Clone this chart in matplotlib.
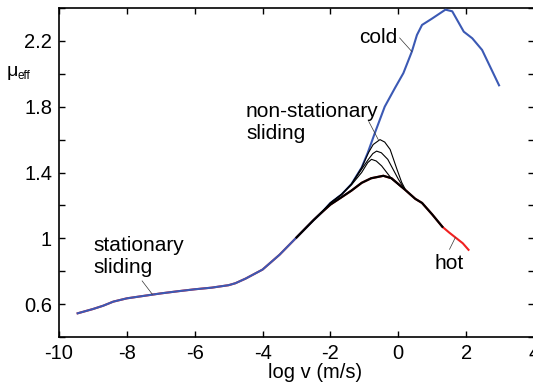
import matplotlib
matplotlib.use("Agg")
import matplotlib.pyplot as plt
import numpy as np

plt.rcParams['font.family'] = ['Liberation Sans', 'DejaVu Sans']

# base (stationary / hot) curve
base_x = [-9.45, -9.0, -8.7, -8.4, -8.0, -7.5, -7.0, -6.5, -6.0, -5.5, -5.0, -4.8, -4.5,
          -4.0, -3.5, -3.0, -2.5, -2.27, -2.0, -1.67, -1.38, -1.08, -0.8, -0.44, -0.2,
          0.0, 0.2, 0.5, 0.7, 1.0, 1.3, 1.5, 1.9, 2.07]
base_y = [0.544, 0.57, 0.59, 0.615, 0.635, 0.65, 0.665, 0.678, 0.69, 0.70, 0.715, 0.727, 0.755,
          0.81, 0.90, 1.005, 1.11, 1.155, 1.205, 1.25, 1.29, 1.337, 1.365, 1.38, 1.365,
          1.33, 1.295, 1.24, 1.215, 1.145, 1.07, 1.035, 0.97, 0.93]

# cold curve branch (after leaving the base curve near log v = -2.3)
cold_x = [-2.0, -1.67, -1.38, -1.08, -0.9, -0.7, -0.4, -0.1, 0.15, 0.4, 0.55, 0.7, 0.99,
          1.39, 1.59, 1.93, 2.18, 2.47, 2.97]
cold_y = [1.215, 1.267, 1.33, 1.43, 1.52, 1.635, 1.80, 1.913, 2.004, 2.135, 2.236, 2.297, 2.335,
          2.39, 2.38, 2.256, 2.216, 2.145, 1.93]

# intermediate (black) curve range
mid_x_range = [-3.0, 1.3]

# non-stationary sliding curves
ns1_x = [-2.27, -2.0, -1.67, -1.38, -1.08, -0.88, -0.74, -0.54, -0.4, -0.24, -0.04, 0.1, 0.2]
ns1_y = [1.155, 1.215, 1.267, 1.33, 1.43, 1.52, 1.57, 1.60, 1.585, 1.54, 1.42, 1.34, 1.30]
ns2_x = [-2.27, -2.0, -1.67, -1.38, -1.08, -0.88, -0.75, -0.64, -0.5, -0.31, 0.0, 0.15]
ns2_y = [1.155, 1.215, 1.267, 1.33, 1.42, 1.48, 1.515, 1.53, 1.52, 1.48, 1.36, 1.31]
ns3_x = [-2.27, -2.0, -1.67, -1.38, -1.08, -0.9, -0.79, -0.65, -0.49, -0.19, 0.1]
ns3_y = [1.155, 1.215, 1.267, 1.325, 1.40, 1.46, 1.48, 1.47, 1.44, 1.36, 1.31]

x_ticks = [-10, -8, -6, -4, -2, 0, 2, 4]
y_ticks = [0.4, 0.6, 0.8, 1.0, 1.2, 1.4, 1.6, 1.8, 2.0, 2.2, 2.4]
y_labels = ['', '0.6', '', '1', '', '1.4', '', '1.8', '', '2.2', '']

fig = plt.figure(figsize=(5.33, 3.86), dpi=100)
ax = fig.add_axes([59/533, 1-337/386, 475/533, 329/386])

bx = np.array(base_x); by = np.array(base_y)
# red hot curve underneath
ax.plot(bx, by, color='#f02020', lw=1.5, zorder=2)
# blue cold curve: base up to branch then cold
m = bx <= -2.27
cx = list(bx[m]) + cold_x
cy = list(by[m]) + cold_y
ax.plot(cx, cy, color='#3b59b4', lw=1.5, zorder=3)
# black intermediate
mm = (bx >= mid_x_range[0]) & (bx <= mid_x_range[1])
ax.plot(bx[mm], by[mm], color='black', lw=1.6, zorder=4)
for xs, ys in [(ns1_x, ns1_y), (ns2_x, ns2_y), (ns3_x, ns3_y)]:
    ax.plot(xs, ys, color='black', lw=0.8, zorder=4)

ax.set_xlim(-10, 4)
ax.set_ylim(0.4, 2.4)
ax.set_xticks(x_ticks)
ax.set_xticklabels([str(t) for t in x_ticks])
ax.set_yticks(y_ticks)
ax.set_yticklabels(y_labels)
ax.tick_params(direction='in', length=4, width=1, top=True, right=True,
               labelsize=14.5, pad=5)
for s in ax.spines.values():
    s.set_linewidth(1.2)

fs = 15
ax.text(-0.59, 2.218, 'cold', fontsize=fs, ha='center', va='center')
ax.plot([0.04, 0.40], [2.218, 2.135], color='#333333', lw=0.5, zorder=5)
ax.text(-4.49, 1.705, 'non-stationary\nsliding', fontsize=fs, ha='left', va='center',
        linespacing=1.22)
ax.plot([-0.87, -0.59], [1.71, 1.6], color='#333333', lw=0.5, zorder=5)
ax.text(-8.99, 0.888, 'stationary\nsliding', fontsize=fs, ha='left', va='center',
        linespacing=1.22)
ax.plot([-7.55, -7.25], [0.741, 0.66], color='#333333', lw=0.5, zorder=5)
ax.text(1.50, 0.848, 'hot', fontsize=fs, ha='center', va='center')
ax.plot([1.51, 1.68], [0.933, 1.004], color='#333333', lw=0.5, zorder=5)

fig.text(315/533, 1-373/386, 'log v (m/s)', fontsize=14.5, ha='center', va='center')
fig.text(12/533, 1-72/386, 'μ', fontsize=14, ha='center', va='center')
fig.text(17/533, 1-76/386, 'eff', fontsize=8.5, ha='left', va='center')

fig.savefig('out.png', dpi=100)
